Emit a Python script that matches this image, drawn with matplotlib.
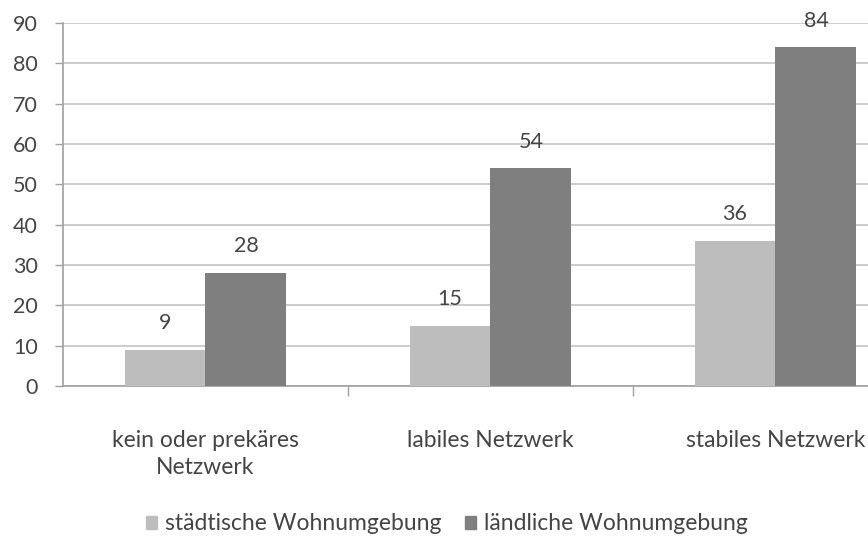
import matplotlib
matplotlib.use("Agg")
import matplotlib.pyplot as plt
import numpy as np
from matplotlib.patches import Patch

categories = ["kein oder prekäres\nNetzwerk", "labiles Netzwerk", "stabiles Netzwerk"]
series_names = ["städtische Wohnumgebung", "ländliche Wohnumgebung"]
staedtisch = [9, 15, 36]
laendlich = [28, 54, 84]
yticks = [0, 10, 20, 30, 40, 50, 60, 70, 80, 90]

plt.rcParams['font.family'] = ['Lato', 'DejaVu Sans']
c_light = "#BDBDBD"
c_dark = "#7F7F7F"
txt = "#454545"

fig = plt.figure(figsize=(8.68, 5.42), dpi=100)
ax = fig.add_axes([63/868, 156/542, 855/868, 363/542])

x = np.arange(len(categories))
w = 0.284
b1 = ax.bar(x - w/2, staedtisch, width=w, color=c_light, zorder=3)
b2 = ax.bar(x + w/2, laendlich, width=w, color=c_dark, zorder=3)
for bars, vals in ((b1, staedtisch), (b2, laendlich)):
    for r, v in zip(bars, vals):
        ax.annotate(str(v), (r.get_x() + r.get_width()/2, v), xytext=(0, 12),
                    textcoords="offset points", ha="center", va="bottom",
                    fontsize=15.5, color=txt)

ax.set_xlim(-0.5, 2.5)
ax.set_ylim(0, 90)
ax.set_yticks(yticks)
ax.set_yticklabels([str(t) for t in yticks], fontsize=15.5, color=txt)
ax.yaxis.grid(True, color="#C8C8C8", linewidth=1.3, zorder=0)
ax.set_axisbelow(True)
ax.tick_params(axis='y', length=6, color="#A0A0A0", width=1, pad=12)
ax.set_xticks(x)
ax.set_xticklabels(categories, fontsize=16.5, color=txt, linespacing=1.35)
ax.tick_params(axis='x', length=0, pad=32)
ax.set_xticks([0.5, 1.5], minor=True)
ax.tick_params(axis='x', which='minor', length=7, color="#A0A0A0", width=1)
for s in ["top", "right"]:
    ax.spines[s].set_visible(False)
ax.spines["left"].set_color("#A0A0A0")
ax.spines["bottom"].set_color("#A0A0A0")
ax.spines["left"].set_linewidth(1.2)
ax.spines["bottom"].set_linewidth(1.2)

handles = [Patch(color=c_light), Patch(color=c_dark)]
fig.legend(handles, series_names, loc="center", bbox_to_anchor=(447/868, 1 - 524/542),
           ncol=2, frameon=False, fontsize=16.5, handlelength=0.5, handleheight=0.5,
           handletextpad=0.35, columnspacing=1.0, labelcolor=txt)

fig.savefig("out.png", dpi=100)
